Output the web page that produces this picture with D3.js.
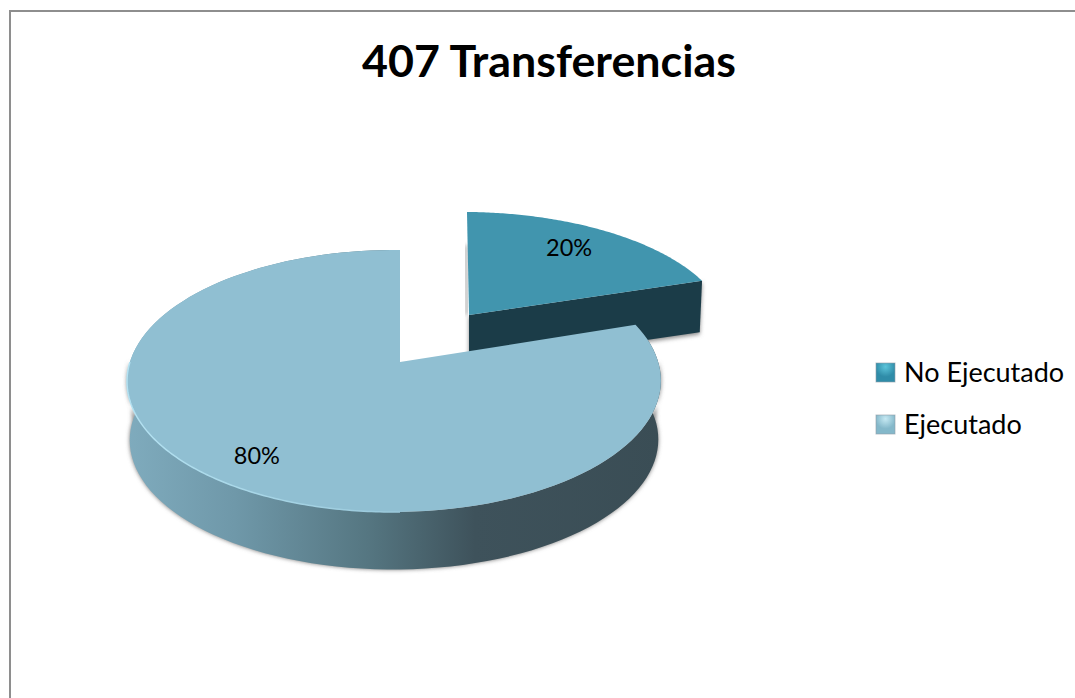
<!DOCTYPE html>
<html>
<head>
<meta charset="utf-8">
<script src="https://cdn.jsdelivr.net/npm/d3@7"></script>
<style>
html, body { margin: 0; padding: 0; background: #fff; }
svg { display: block; }
text { font-family: Lato, "Open Sans", sans-serif; fill: #000; }
</style>
</head>
<body>
<script>
var titleText = "407 Transferencias";
var categories = ["No Ejecutado", "Ejecutado"];
var values = [20, 80];
var topColors = ["#4195ae", "#90bfd2"];
var swatchLight = ["#5cc4da", "#c6e9f3"];
var swatchMid = ["#2f8ca8", "#84b8ca"];

var width = 1075, height = 698;

var svg = d3.select("body").append("svg")
    .attr("width", width)
    .attr("height", height);

var defs = svg.append("defs");

// side of the big slice, light on the left and dark on the right
var wallGrad = defs.append("linearGradient")
    .attr("id", "wall")
    .attr("gradientUnits", "userSpaceOnUse")
    .attr("x1", 128).attr("x2", 662).attr("y1", 0).attr("y2", 0);
[[0, "#7fabbd"], [0.2, "#6f98a9"], [0.45, "#557681"], [0.65, "#3e525b"], [1, "#3a4d55"]].forEach(function(s) {
    wallGrad.append("stop").attr("offset", s[0]).attr("stop-color", s[1]);
});

var rimGrad = defs.append("linearGradient")
    .attr("id", "rim")
    .attr("gradientUnits", "userSpaceOnUse")
    .attr("x1", 128).attr("x2", 500).attr("y1", 0).attr("y2", 0);
rimGrad.append("stop").attr("offset", 0).attr("stop-color", "#b4e2f2");
rimGrad.append("stop").attr("offset", 1).attr("stop-color", "#90bfd2");

var shadow = defs.append("filter").attr("id", "soft")
    .attr("x", "-10%").attr("y", "-10%").attr("width", "120%").attr("height", "120%");
shadow.append("feGaussianBlur").attr("stdDeviation", 2);

categories.forEach(function(c, i) {
    var g = defs.append("radialGradient").attr("id", "swatch" + i)
        .attr("cx", 0.5).attr("cy", 0.2).attr("r", 0.7);
    g.append("stop").attr("offset", 0).attr("stop-color", swatchLight[i]);
    g.append("stop").attr("offset", 0.75).attr("stop-color", swatchMid[i]);
});

// frame, only top and left are drawn in the picture
svg.append("path")
    .attr("d", d3.line()([[10, height], [10, 11], [width, 11]]))
    .attr("fill", "none")
    .attr("stroke", "#8e8e8e")
    .attr("stroke-width", 2);

svg.append("text")
    .attr("x", 549)
    .attr("y", 77)
    .attr("text-anchor", "middle")
    .attr("font-size", 44.8)
    .attr("font-weight", 700)
    .text(titleText);

// perspective of the tilted disc: X to the right, Y going away from the viewer
var tiltK = 0.145, tiltM = 0.0224;
var bigDisc = {x0: 400, y0: 362, ax: 264, ay: 128.2, shear: 0, depth: 59, shrink: 0.99};
var smallDisc = {x0: 469, y0: 315, ax: 262, ay: 118, shear: -2.3, depth: 51, shrink: 0.99};

function project(disc, a, r, down) {
    var X = r * Math.sin(a), Y = r * Math.cos(a);
    var w = 1 + tiltK * Y + tiltM * X;
    var s = down ? disc.shrink : 1;
    return [
        disc.x0 + s * (disc.ax * X + disc.shear * Y) / w,
        disc.y0 - s * disc.ay * Y / w + (down ? disc.depth : 0)
    ];
}

function rimAngles(a0, a1) {
    return d3.range(0, 121).map(function(i) { return a0 + (a1 - a0) * i / 120; });
}

var pie = d3.pie().sort(null);
var slices = pie(values);
var line = d3.line();

function topPath(disc, s) {
    var pts = [project(disc, 0, 0)].concat(rimAngles(s.startAngle, s.endAngle).map(function(a) {
        return project(disc, a, 1);
    }));
    return line(pts) + "Z";
}

function wallPath(disc, a0, a1) {
    var angles = rimAngles(a0, a1);
    var upper = angles.map(function(a) { return project(disc, a, 1); });
    var lower = angles.slice().reverse().map(function(a) { return project(disc, a, 1, true); });
    return line(upper.concat(lower)) + "Z";
}

function cutPath(disc, a) {
    return line([
        project(disc, 0, 0),
        project(disc, a, 1),
        project(disc, a, 1, true),
        project(disc, 0, 0, true)
    ]) + "Z";
}

// exploded slice first, the big one overlaps it
var small = slices[0], big = slices[1];

svg.append("path")
    .attr("d", cutPath(smallDisc, small.endAngle))
    .attr("fill", "#8a8a8a")
    .attr("filter", "url(#soft)")
    .attr("transform", "translate(0,2)");
svg.append("path")
    .attr("d", cutPath(smallDisc, small.endAngle))
    .attr("fill", "#1b3c48");
svg.append("path")
    .attr("d", line([project(smallDisc, 0, 0.65), project(smallDisc, 0, 0)]))
    .attr("fill", "none")
    .attr("stroke", "#777")
    .attr("stroke-width", 2)
    .attr("filter", "url(#soft)")
    .attr("transform", "translate(-2,0)");
svg.append("path")
    .attr("d", topPath(smallDisc, small))
    .attr("fill", topColors[0]);

// big slice
svg.append("path")
    .attr("d", wallPath(bigDisc, Math.PI / 2, 3 * Math.PI / 2))
    .attr("fill", "#777")
    .attr("filter", "url(#soft)");
svg.append("path")
    .attr("d", wallPath(bigDisc, big.startAngle, big.endAngle))
    .attr("fill", "url(#wall)");
svg.append("path")
    .attr("d", line([project(bigDisc, 0, 0.6), project(bigDisc, 0, 0)]))
    .attr("fill", "none")
    .attr("stroke", "#888")
    .attr("stroke-width", 2)
    .attr("filter", "url(#soft)")
    .attr("transform", "translate(2,0)");
svg.append("path")
    .attr("d", topPath(bigDisc, big))
    .attr("fill", topColors[1]);
svg.append("path")
    .attr("d", line(rimAngles(Math.PI, 3 * Math.PI / 2).map(function(a) { return project(bigDisc, a, 1); })))
    .attr("fill", "none")
    .attr("stroke", "url(#rim)")
    .attr("stroke-width", 1.5);

// value labels
var total = d3.sum(values);
svg.selectAll("text.value")
    .data([
        {slice: small, disc: smallDisc, a: 0.0953 * 2 * Math.PI, r: 0.756},
        {slice: big, disc: bigDisc, a: 0.6014 * 2 * Math.PI, r: 0.815}
    ])
    .enter().append("text")
    .attr("class", "value")
    .attr("x", function(d) { return project(d.disc, d.a, d.r)[0]; })
    .attr("y", function(d) { return project(d.disc, d.a, d.r)[1] + 8; })
    .attr("text-anchor", "middle")
    .attr("font-size", 23.5)
    .text(function(d) { return Math.round(d.slice.data / total * 100) + "%"; });

// legend
var legendY = d3.scalePoint().domain(categories).range([373, 425]);
var legend = svg.selectAll("g.legend")
    .data(categories)
    .enter().append("g")
    .attr("class", "legend")
    .attr("transform", function(d) { return "translate(876," + legendY(d) + ")"; });

legend.append("rect")
    .attr("y", -10)
    .attr("width", 19)
    .attr("height", 19)
    .attr("fill", function(d, i) { return "url(#swatch" + i + ")"; })
    .attr("stroke", "#8f9fa6")
    .attr("stroke-opacity", 0.6);

legend.append("text")
    .attr("x", 28)
    .attr("y", 9)
    .attr("font-size", 27)
    .text(function(d) { return d; });
</script>
</body>
</html>
